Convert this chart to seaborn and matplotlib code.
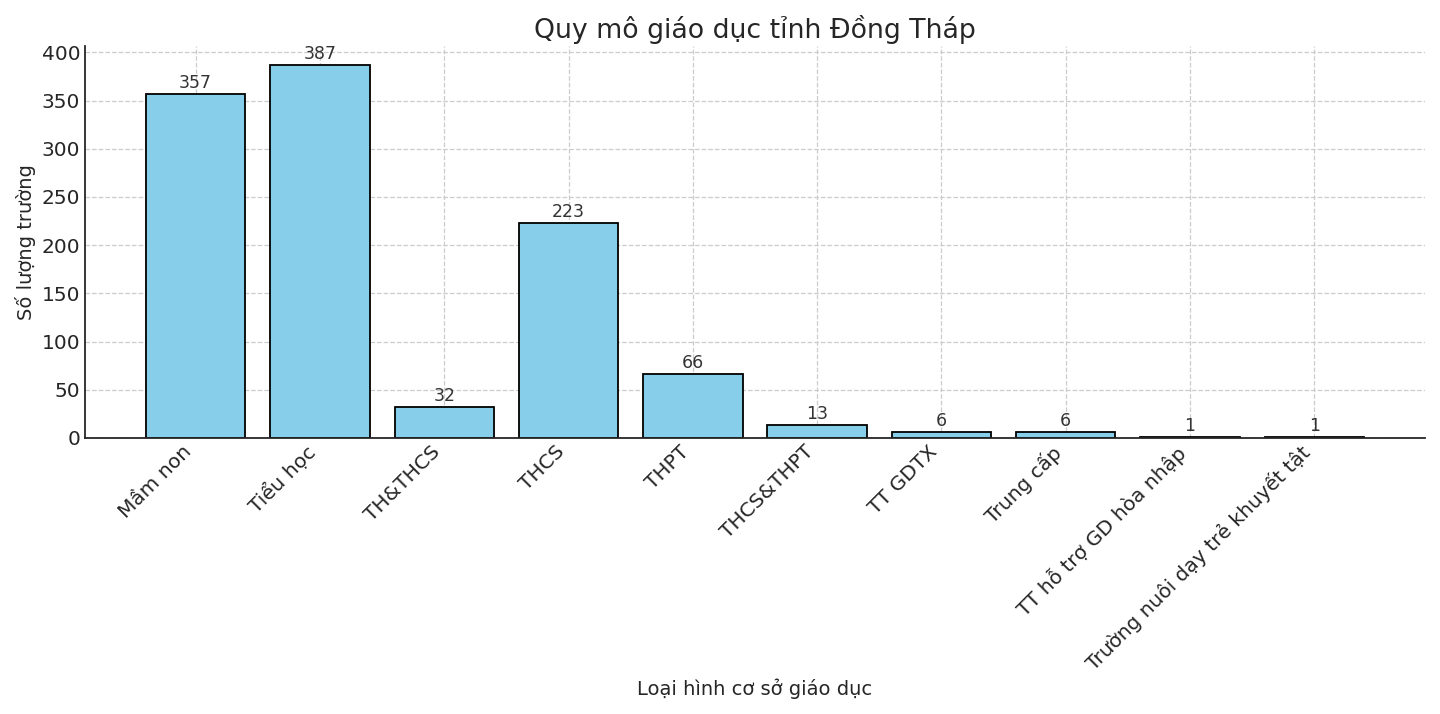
import pandas as pd
import seaborn as sns
import matplotlib
matplotlib.use('Agg')
import matplotlib.pyplot as plt

# Data
categories = ['Mầm non', 'Tiểu học', 'TH&THCS', 'THCS', 'THPT', 'THCS&THPT',
              'TT GDTX', 'Trung cấp', 'TT hỗ trợ GD hòa nhập',
              'Trường nuôi dạy trẻ khuyết tật']
counts = [357, 387, 32, 223, 66, 13, 6, 6, 1, 1]

df = pd.DataFrame({'Loại': categories, 'Số lượng': counts})

sns.set_style('white')
plt.rcParams['font.family'] = ['DejaVu Sans']
text_color = '#262626'

fig, ax = plt.subplots(figsize=(14.4, 7.14), dpi=100)
sns.barplot(data=df, x='Loại', y='Số lượng', color='skyblue', saturation=1,
            edgecolor='black', linewidth=1.3, width=0.8, ax=ax)

# Value labels on top of each bar
for i, v in enumerate(counts):
    ax.text(i, v + 2, str(v), ha='center', va='bottom', fontsize=12.5, color='#333333')

ax.set_xlim(-0.89, len(categories) - 0.11)
ax.set_ylim(0, max(counts) * 1.05)
ax.set_title('Quy mô giáo dục tỉnh Đồng Tháp', fontsize=19.3, color=text_color, pad=6)
ax.set_xlabel('Loại hình cơ sở giáo dục', fontsize=14, color=text_color, labelpad=3)
ax.set_ylabel('Số lượng trường', fontsize=14, color=text_color)
plt.setp(ax.get_xticklabels(), rotation=45, ha='right')
ax.tick_params(axis='both', labelsize=14.5, colors=text_color, direction='in', length=5, width=1)
ax.tick_params(axis='x', pad=3)

ax.grid(True, linestyle='--', color='#cccccc', linewidth=0.9)
for bar in ax.patches:
    bar.set_zorder(1)
ax.xaxis.grid(True)
for line in ax.get_xgridlines() + ax.get_ygridlines():
    line.set_zorder(2)

sns.despine(ax=ax)
for s in ['left', 'bottom']:
    ax.spines[s].set_color(text_color)
    ax.spines[s].set_linewidth(1.3)

plt.tight_layout()
plt.savefig('out.png', dpi=100)
